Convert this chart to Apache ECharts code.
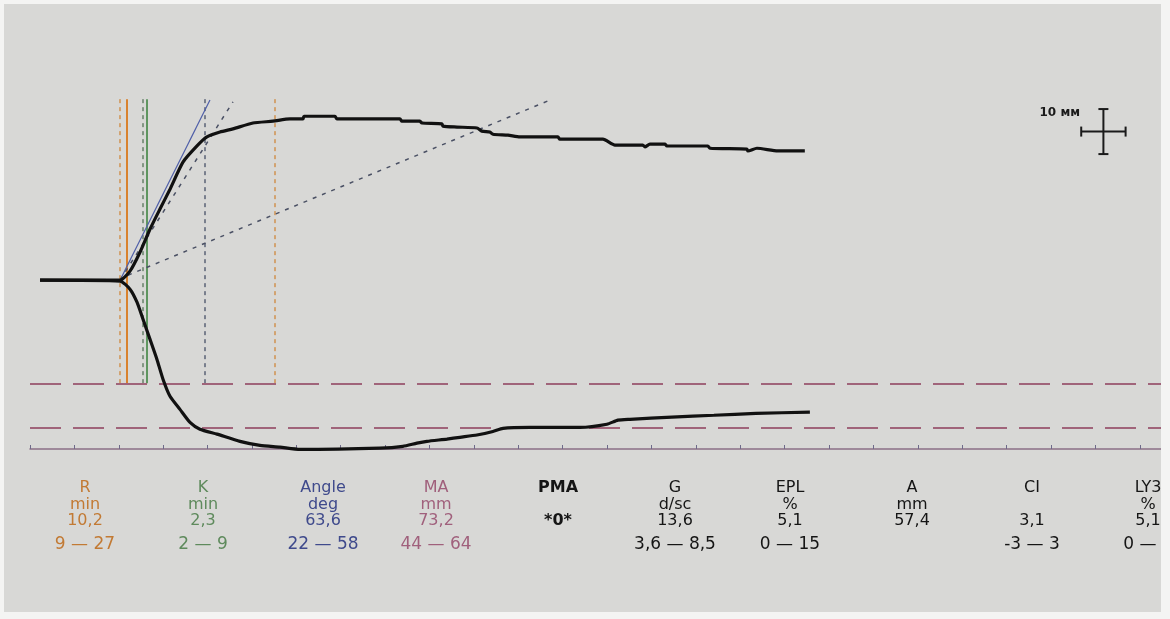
<!DOCTYPE html>
<html>
<head>
<meta charset="utf-8">
<script src="https://cdn.jsdelivr.net/npm/echarts@6/dist/echarts.min.js"></script>
<style>
  html, body { margin: 0; padding: 0; background: #fff; }
  #chart { width: 1170px; height: 619px; }
</style>
</head>
<body>
<div id="chart"></div>
<script>
// trace: time in min, amplitude in mm
var upperTime = [1.13, 10.14, 11.26, 12.39, 13.51, 14.64, 15.77, 17.23, 18.81, 19.93, 21.4, 22.86, 25.11, 27.36, 29.28, 30.74, 30.86, 34.35, 34.57, 41.67, 41.89, 43.92, 44.14, 46.4, 46.51, 48.09, 50.34, 50.9, 51.8, 52.14, 53.83, 55.18, 59.46, 59.68, 64.53, 65.88, 69.03, 69.26, 69.82, 71.51, 71.73, 76.35, 76.58, 80.74, 80.86, 81.87, 84.23, 87.27];
var upperAmp = [0, 0, 2.0, 6.2, 11.3, 15.8, 20.2, 26.2, 29.8, 31.8, 32.9, 33.6, 34.9, 35.3, 35.8, 35.8, 36.4, 36.4, 35.8, 35.8, 35.3, 35.3, 34.9, 34.7, 34.2, 34.0, 33.8, 33.1, 32.9, 32.4, 32.2, 31.8, 31.8, 31.3, 31.3, 30.0, 30.0, 29.6, 30.2, 30.2, 29.8, 29.8, 29.3, 29.1, 28.7, 29.3, 28.7, 28.7];
var lowerTime = [1.13, 10.14, 11.26, 12.05, 12.73, 13.51, 14.3, 14.98, 15.77, 16.89, 18.02, 19.14, 21.06, 23.65, 25.9, 28.15, 30.41, 39.41, 42.0, 43.58, 44.71, 46.96, 48.42, 50.34, 52.14, 53.27, 56.31, 61.94, 64.98, 66.22, 67.57, 72.3, 77.03, 81.76, 87.84];
var lowerAmp = [0, -0.2, -2.0, -4.9, -8.7, -13.1, -17.6, -22.0, -25.8, -28.7, -31.6, -33.1, -34.2, -35.8, -36.7, -37.1, -37.6, -37.3, -36.9, -36.2, -35.8, -35.3, -34.9, -34.4, -33.6, -32.9, -32.7, -32.7, -32.0, -31.1, -30.9, -30.4, -30.0, -29.6, -29.3];

// marker lines (min) and limit lines (mm)
var rTimes = [10.1, 10.9];
var kTimes = [12.7, 13.1];
var angleTime = 19.7;
var maTime = 27.6;
var markerTop = 40.2;
var limitLines = [-22.9, -32.7];
var tangentLine = [[10.14, 0], [20.27, 40.0]];
var angleLine = [[10.14, 0], [22.86, 39.6]];
var longLine = [[11.04, 1.1], [58.33, 39.8]];
var scaleCross = [[120.9, 33.0, 5, 10]]; // centre t, centre mm, 5 min wide, 10 mm tall

// result table
var paramNames = ['R', 'K', 'Angle', 'MA', 'PMA', 'G', 'EPL', 'A', 'CI', 'LY3'];
var paramUnits = ['min', 'min', 'deg', 'mm', '', 'd/sc', '%', 'mm', '', '%'];
var paramValues = ['10,2', '2,3', '63,6', '73,2', '*0*', '13,6', '5,1', '57,4', '3,1', '5,1'];
var paramRanges = ['9 — 27', '2 — 9', '22 — 58', '44 — 64', '', '3,6 — 8,5', '0 — 15', '', '-3 — 3', '0 — 8'];

var colX = [85, 203, 323, 436, 558, 675, 790, 912, 1032, 1148];
var colColor = ['#c27a34', '#5e8a5c', '#3f4a8c', '#a0607c', '#151515', '#151515', '#151515', '#151515', '#151515', '#151515'];
var rowY = [488, 505, 521, 545];

function zip(a, b) {
  return a.map(function (v, i) { return [v, b[i]]; });
}

function vSeg(t, color, type, width) {
  return [
    { coord: [t, markerTop], lineStyle: { color: color, type: type, width: width } },
    { coord: [t, limitLines[0]] }
  ];
}

var chart = echarts.init(document.getElementById('chart'));

var texts = [];
paramNames.forEach(function (name, i) {
  var rows = [name, paramUnits[i], paramValues[i], paramRanges[i]];
  rows.forEach(function (txt, r) {
    if (!txt) return;
    texts.push({
      type: 'text',
      x: colX[i],
      y: rowY[r],
      z: 10,
      style: {
        text: txt,
        fill: colColor[i],
        font: (name === 'PMA' ? 'bold ' : '') + (r === 3 ? '17px' : '16px') + ' "DejaVu Sans", sans-serif',
        align: 'center',
        verticalAlign: 'middle'
      }
    });
  });
});

var edges = [
  { type: 'rect', shape: { x: 0, y: 0, width: 1170, height: 4 } },
  { type: 'rect', shape: { x: 1161, y: 0, width: 9, height: 619 } },
  { type: 'rect', shape: { x: 0, y: 612, width: 1170, height: 7 } },
  { type: 'rect', shape: { x: 0, y: 0, width: 4, height: 619 } }
].map(function (e) {
  e.z = 100;
  e.style = { fill: '#f4f4f3' };
  return e;
});

chart.setOption({
  animation: false,
  backgroundColor: '#d8d8d6',
  grid: { left: 30, right: 0, top: 10, height: 439 },
  xAxis: {
    type: 'value',
    min: 0,
    max: 128.4,
    interval: 5,
    axisLine: { onZero: false, lineStyle: { color: '#8a6f86', width: 1.5 } },
    axisTick: { inside: true, length: 4, lineStyle: { color: '#6f6a8a' } },
    axisLabel: { show: false },
    splitLine: { show: false }
  },
  yAxis: {
    type: 'value',
    min: -37.5,
    max: 60,
    show: false
  },
  graphic: texts.concat(edges).concat([{
    type: 'text',
    x: 1080,
    y: 113,
    z: 10,
    style: {
      text: '10 мм',
      fill: '#1a1a1a',
      font: 'bold 12px "DejaVu Sans", sans-serif',
      align: 'right',
      verticalAlign: 'middle'
    }
  }]),
  series: [
    {
      type: 'line',
      name: 'upper',
      data: zip(upperTime, upperAmp),
      symbol: 'none',
      smooth: 0.2,
      clip: false,
      z: 5,
      lineStyle: { color: '#111', width: 3.2 },
      markLine: {
        silent: true,
        symbol: ['none', 'none'],
        label: { show: false },
        data: [
          vSeg(rTimes[0], '#cf9150', [4, 4], 1.5),
          vSeg(rTimes[1], '#d9822e', 'solid', 2),
          vSeg(kTimes[0], '#67806a', [4, 4], 1.5),
          vSeg(kTimes[1], '#5f9660', 'solid', 2),
          vSeg(angleTime, '#5a6276', [4, 4], 1.5),
          vSeg(maTime, '#cf9150', [4, 4], 1.5),
          { yAxis: limitLines[0], lineStyle: { color: '#a0647a', type: [31, 12], width: 2 } },
          { yAxis: limitLines[1], lineStyle: { color: '#a0647a', type: [31, 12], width: 2 } },
          [
            { coord: tangentLine[0], lineStyle: { color: '#4e5ea8', type: 'solid', width: 1.2 } },
            { coord: tangentLine[1] }
          ],
          [
            { coord: angleLine[0], lineStyle: { color: '#4a5064', type: [4, 6], width: 1.5 } },
            { coord: angleLine[1] }
          ],
          [
            { coord: longLine[0], lineStyle: { color: '#4a5064', type: [4, 6], width: 1.5 } },
            { coord: longLine[1] }
          ]
        ]
      }
    },
    {
      type: 'line',
      name: 'lower',
      data: zip(lowerTime, lowerAmp),
      symbol: 'none',
      smooth: 0.2,
      clip: false,
      z: 5,
      lineStyle: { color: '#111', width: 3.2 }
    },
    {
      type: 'custom',
      name: 'scale',
      data: scaleCross,
      z: 6,
      renderItem: function (params, api) {
        var c = api.coord([api.value(0), api.value(1)]);
        var w = api.size([api.value(2), 0])[0];
        var h = api.size([0, api.value(3)])[1];
        var cap = 5;
        var st = { stroke: '#1a1a1a', lineWidth: 2 };
        function seg(x1, y1, x2, y2) {
          return { type: 'line', shape: { x1: x1, y1: y1, x2: x2, y2: y2 }, style: st };
        }
        return {
          type: 'group',
          children: [
            seg(c[0], c[1] - h / 2, c[0], c[1] + h / 2),
            seg(c[0] - cap, c[1] - h / 2, c[0] + cap, c[1] - h / 2),
            seg(c[0] - cap, c[1] + h / 2, c[0] + cap, c[1] + h / 2),
            seg(c[0] - w / 2, c[1], c[0] + w / 2, c[1]),
            seg(c[0] - w / 2, c[1] - cap, c[0] - w / 2, c[1] + cap),
            seg(c[0] + w / 2, c[1] - cap, c[0] + w / 2, c[1] + cap)
          ]
        };
      }
    }
  ]
});
</script>
</body>
</html>
